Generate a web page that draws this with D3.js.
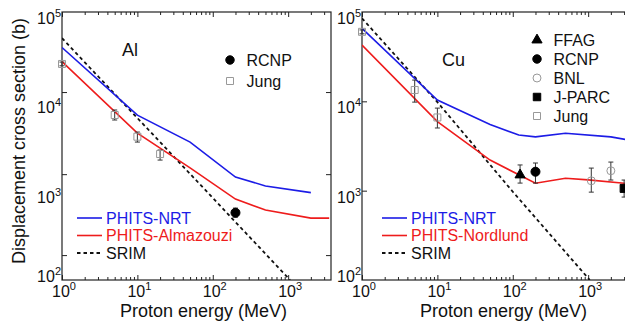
<!DOCTYPE html>
<html lang="en">
<head>
<meta charset="UTF-8" />
<title>Displacement cross section</title>
<style>
  body { margin: 0; background: #fff; }
  svg { display: block; font-family: "Liberation Sans", Arial, Helvetica, sans-serif; }
  .frame { fill: none; stroke: #222; stroke-width: 1.2; }
  .axis path { display: none; }
  .axis line { stroke: #222; stroke-width: 1; }
  .nrt { fill: none; stroke: #1c1ce6; stroke-width: 1.6; }
  .alt { fill: none; stroke: #ee1c1c; stroke-width: 1.6; }
  .srim { fill: none; stroke: #111; stroke-width: 1.8; stroke-dasharray: 3.5 3; }
  .err { stroke: #333; stroke-width: 1; }
</style>
</head>
<body>
<script src="https://cdn.jsdelivr.net/npm/d3@7/dist/d3.min.js"></script>
<script>
// ---- tick values ----
var xDecades = [1, 10, 100, 1000];
var yDecades = [100, 1000, 10000, 100000];
// in the original the Al panel's y tick marks are not on the decades
var alTickMarks = [190, 1530, 12700];
var cuTickMarks = [1000, 10000];

// ---- Al panel ----
var alNrtE = [1, 10, 50, 200, 500, 2000];
var alNrt  = [40000, 7000, 3500, 1420, 1130, 950];
var alAlmE = [1, 10, 50, 200, 500, 2000, 3500];
var alAlm  = [27800, 4400, 1800, 805, 607, 493, 493];
var alSrimE = [1, 10, 100, 1060];
var alSrim  = [51000, 6500, 830, 100];
var alJungE  = [1, 5, 10, 20];
var alJung   = [26200, 7030, 4020, 2570];
var alJungLo = [25000, 6180, 3500, 2200];
var alJungHi = [27500, 8000, 4530, 2850];
var alRcnpE  = [200];
var alRcnp   = [566];
var alRcnpLo = [506];
var alRcnpHi = [638];

// ---- Cu panel ----
var cuNrtE = [1, 10, 50, 120, 200, 500, 2000, 3700];
var cuNrt  = [65700, 10350, 5500, 4200, 4000, 4400, 4000, 3650];
var cuNorE = [1, 10, 50, 200, 500, 1000, 3000, 3700];
var cuNor  = [42600, 5920, 2200, 1210, 1375, 1320, 1210, 1200];
var cuSrimE = [1, 10, 100, 1050];
var cuSrim  = [85000, 9800, 973, 100];
var cuJungE  = [1, 5, 10];
var cuJung   = [60000, 13400, 6600];
var cuJungLo = [57000, 9800, 5030];
var cuJungHi = [63000, 17300, 8400];
var cuFfagE = [125], cuFfag = [1500], cuFfagLo = [1216], cuFfagHi = [1940];
var cuRcnpE = [200], cuRcnp = [1630], cuRcnpLo = [1216], cuRcnpHi = [2040];
var cuBnlE = [1100, 2000], cuBnl = [1290, 1670], cuBnlLo = [963, 1315], cuBnlHi = [1790, 2090];
var cuJparcE = [3000], cuJparc = [1060], cuJparcLo = [848], cuJparcHi = [1315];

var w = 625, h = 324;
var plotTop = 12, plotBottom = 280;

var svg = d3.select("body").append("svg")
    .attr("width", w)
    .attr("height", h);

var y = d3.scaleLog().domain([100, 1e5]).range([plotBottom, plotTop]);
var xAl = d3.scaleLog().domain([1, 3700]).range([62, 331]);
var xCu = d3.scaleLog().domain([1, 3700]).range([362, 631]);

// minor ticks 2..9 in every decade
var minor = [];
xDecades.forEach(function(d) {
  for (var k = 2; k <= 9; k++) { if (k * d <= 3700) minor.push(k * d); }
});

function pow10(sel, exp, size) {
  sel.append("tspan").text("10");
  sel.append("tspan").attr("dy", -7).attr("font-size", size).text(exp);
}

function drawPanel(id, x, tickMarks) {
  var x0 = x.range()[0], x1 = x.range()[1];

  svg.append("clipPath").attr("id", "clip-" + id)
    .append("rect").attr("x", x0).attr("y", plotTop).attr("width", x1 - x0).attr("height", plotBottom - plotTop);

  // ticks, all pointing inside
  svg.append("g").attr("class", "axis").attr("transform", "translate(0," + plotBottom + ")")
    .call(d3.axisBottom(x).tickValues(xDecades).tickSize(-5).tickFormat(""));
  svg.append("g").attr("class", "axis").attr("transform", "translate(0," + plotBottom + ")")
    .call(d3.axisBottom(x).tickValues(minor).tickSize(-3).tickFormat(""));
  svg.append("g").attr("class", "axis").attr("transform", "translate(0," + plotTop + ")")
    .call(d3.axisTop(x).tickValues(xDecades).tickSize(-5).tickFormat(""));
  svg.append("g").attr("class", "axis").attr("transform", "translate(0," + plotTop + ")")
    .call(d3.axisTop(x).tickValues(minor).tickSize(-3).tickFormat(""));
  svg.append("g").attr("class", "axis").attr("transform", "translate(" + x0 + ",0)")
    .call(d3.axisLeft(y).tickValues(tickMarks).tickSize(-5).tickFormat(""));
  svg.append("g").attr("class", "axis").attr("transform", "translate(" + x1 + ",0)")
    .call(d3.axisRight(y).tickValues(tickMarks).tickSize(-5).tickFormat(""));

  svg.append("rect").attr("class", "frame")
    .attr("x", x0).attr("y", plotTop).attr("width", x1 - x0).attr("height", plotBottom - plotTop);

  // tick labels
  xDecades.forEach(function(d) {
    var t = svg.append("text")
      .attr("x", x(d) + 2).attr("y", 297)
      .attr("text-anchor", "middle")
      .attr("font-size", 16).attr("fill", "#111");
    pow10(t, Math.round(Math.log10(d)), 11);
  });
  yDecades.forEach(function(d) {
    var off = d === 100 ? 2 : 12;
    var t = svg.append("text")
      .attr("x", x0 - 1).attr("y", y(d) + off)
      .attr("text-anchor", "end")
      .attr("font-size", 16).attr("fill", "#111");
    pow10(t, Math.round(Math.log10(d)), 11);
  });

  svg.append("text")
    .attr("x", (x0 + x1) / 2 + 7).attr("y", 317)
    .attr("text-anchor", "middle")
    .attr("font-size", 18).attr("fill", "#111")
    .text("Proton energy (MeV)");

  return svg.append("g").attr("clip-path", "url(#clip-" + id + ")");
}

function curve(g, x, E, v, cls) {
  var line = d3.line()
    .x(function(d) { return x(d[0]); })
    .y(function(d) { return y(d[1]); });
  g.append("path").datum(d3.zip(E, v)).attr("class", cls).attr("d", line);
}

// data markers are not clipped, the ones at 1 MeV sit on the frame
function points(x, E, v, lo, hi, type, size, fill, stroke) {
  var g = svg.append("g");
  var rows = d3.zip(E, v, lo, hi);
  g.selectAll(null).data(rows).enter().append("line")
    .attr("class", "err")
    .attr("x1", function(d) { return x(d[0]); }).attr("x2", function(d) { return x(d[0]); })
    .attr("y1", function(d) { return y(d[2]); }).attr("y2", function(d) { return y(d[3]); });
  [2, 3].forEach(function(k) {
    g.selectAll(null).data(rows).enter().append("line")
      .attr("class", "err")
      .attr("x1", function(d) { return x(d[0]) - 2.5; }).attr("x2", function(d) { return x(d[0]) + 2.5; })
      .attr("y1", function(d) { return y(d[k]); }).attr("y2", function(d) { return y(d[k]); });
  });
  g.selectAll(null).data(rows).enter().append("path")
    .attr("d", d3.symbol().type(type).size(size))
    .attr("transform", function(d) { return "translate(" + x(d[0]) + "," + y(d[1]) + ")"; })
    .attr("fill", fill).attr("stroke", stroke).attr("stroke-width", 1);
}

function marker(px, py, type, size, fill, stroke, label) {
  svg.append("path")
    .attr("d", d3.symbol().type(type).size(size))
    .attr("transform", "translate(" + px + "," + py + ")")
    .attr("fill", fill).attr("stroke", stroke).attr("stroke-width", 1);
  svg.append("text").attr("x", px + 16.5).attr("y", py + 5.5)
    .attr("font-size", 16).attr("fill", "#111").text(label);
}

function lineKey(px, labels) {
  var cls = ["nrt", "alt", "srim"];
  var col = ["#1c1ce6", "#ee1c1c", "#111"];
  var ys = [218, 235.5, 253];
  labels.forEach(function(l, i) {
    svg.append("line").attr("class", cls[i])
      .attr("x1", px).attr("x2", px + 25).attr("y1", ys[i]).attr("y2", ys[i]);
    svg.append("text").attr("x", px + 29).attr("y", ys[i] + 5.5)
      .attr("font-size", 16).attr("fill", col[i]).text(l);
  });
}

// ---- Al ----
var gAl = drawPanel("al", xAl, alTickMarks);
curve(gAl, xAl, alSrimE, alSrim, "srim");
curve(gAl, xAl, alNrtE, alNrt, "nrt");
curve(gAl, xAl, alAlmE, alAlm, "alt");
points(xAl, alJungE, alJung, alJungLo, alJungHi, d3.symbolSquare, 49, "none", "#999");
points(xAl, alRcnpE, alRcnp, alRcnpLo, alRcnpHi, d3.symbolCircle, 64, "#000", "#000");

svg.append("text").attr("x", 122).attr("y", 56).attr("font-size", 18).attr("fill", "#111").text("Al");
marker(230, 60, d3.symbolCircle, 56, "#000", "#000", "RCNP");
marker(230, 81, d3.symbolSquare, 49, "none", "#999", "Jung");
lineKey(77, ["PHITS-NRT", "PHITS-Almazouzi", "SRIM"]);

// ---- Cu ----
var gCu = drawPanel("cu", xCu, cuTickMarks);
curve(gCu, xCu, cuSrimE, cuSrim, "srim");
curve(gCu, xCu, cuNrtE, cuNrt, "nrt");
curve(gCu, xCu, cuNorE, cuNor, "alt");
points(xCu, cuJungE, cuJung, cuJungLo, cuJungHi, d3.symbolSquare, 49, "none", "#999");
points(xCu, cuFfagE, cuFfag, cuFfagLo, cuFfagHi, d3.symbolTriangle, 45, "#000", "#000");
points(xCu, cuRcnpE, cuRcnp, cuRcnpLo, cuRcnpHi, d3.symbolCircle, 64, "#000", "#000");
points(xCu, cuBnlE, cuBnl, cuBnlLo, cuBnlHi, d3.symbolCircle, 50, "none", "#999");
points(xCu, cuJparcE, cuJparc, cuJparcLo, cuJparcHi, d3.symbolSquare, 64, "#000", "#000");

svg.append("text").attr("x", 442).attr("y", 66).attr("font-size", 18).attr("fill", "#111").text("Cu");
marker(537, 40, d3.symbolTriangle, 45, "#000", "#000", "FFAG");
marker(537, 59, d3.symbolCircle, 56, "#000", "#000", "RCNP");
marker(537, 78, d3.symbolCircle, 50, "#fff", "#999", "BNL");
marker(537, 97, d3.symbolSquare, 56, "#000", "#000", "J-PARC");
marker(537, 116, d3.symbolSquare, 49, "#fff", "#999", "Jung");
lineKey(382, ["PHITS-NRT", "PHITS-Nordlund", "SRIM"]);

// y title
svg.append("text")
  .attr("transform", "translate(25,141) rotate(-90)")
  .attr("text-anchor", "middle")
  .attr("font-size", 18).attr("fill", "#111")
  .text("Displacement cross section (b)");
</script>
</body>
</html>
